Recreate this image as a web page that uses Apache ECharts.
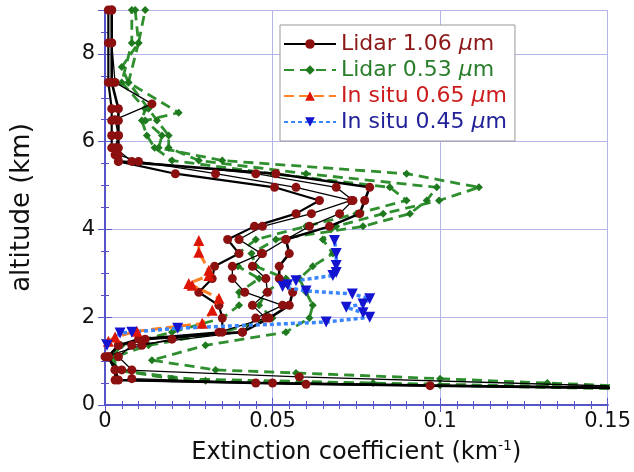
<!DOCTYPE html>
<html>
<head>
<meta charset="utf-8">
<script src="https://cdn.jsdelivr.net/npm/echarts@6/dist/echarts.min.js"></script>
<style>
  html, body { margin: 0; padding: 0; background: #fff; }
  #chart { width: 634px; height: 472px; }
</style>
</head>
<body>
<div id="chart"></div>
<script>
// Lidar 1.06 um profiles (altitude km, extinction km-1)
var lidar1064_alt1 = [0.37, 0.44, 0.5, 0.57, 0.8, 1.1, 1.36, 1.5, 1.66, 1.98, 2.27, 2.57, 2.88, 3.16, 3.45, 3.77, 4.07, 4.36, 4.66, 4.96, 5.27, 5.55, 5.7, 5.86, 6.14, 6.48, 6.75, 7.35, 8.25, 9.0];
var lidar1064_ext1 = [0.17, 0.097, 0.045, 0.004, 0.003, 0.001, 0.004, 0.012, 0.041, 0.049, 0.055, 0.056, 0.052, 0.052, 0.055, 0.054, 0.067, 0.076, 0.0775, 0.079, 0.051, 0.004, 0.003, 0.004, 0.004, 0.004, 0.004, 0.002, 0.002, 0.002];
var lidar1064_alt2 = [0.4, 0.64, 0.8, 1.1, 1.36, 1.5, 1.66, 1.98, 2.27, 2.57, 2.88, 3.16, 3.45, 3.77, 4.07, 4.36, 4.66, 4.96, 5.27, 5.55, 5.86, 6.14, 6.5, 6.86, 7.35, 8.25, 9.0];
var lidar1064_ext2 = [0.165, 0.058, 0.005, 0.0, 0.011, 0.02, 0.034, 0.048, 0.044, 0.0485, 0.048, 0.044, 0.047, 0.054, 0.061, 0.07, 0.074, 0.069, 0.045, 0.008, 0.003, 0.004, 0.003, 0.014, 0.003, 0.002, 0.002];
var lidar1064_alt3 = [0.38, 0.5, 0.57, 0.8, 1.1, 1.36, 1.5, 1.66, 1.98, 2.27, 2.57, 2.88, 3.16, 3.45, 3.77, 4.07, 4.36, 4.66, 4.96, 5.27, 5.55, 5.86, 6.14, 6.48, 6.75, 7.35, 8.25, 9.0];
var lidar1064_ext3 = [0.16, 0.05, 0.003, 0.003, 0.001, 0.004, 0.01, 0.035, 0.035, 0.034, 0.028, 0.032, 0.0327, 0.040, 0.0366, 0.0446, 0.057, 0.064, 0.0506, 0.021, 0.004, 0.002, 0.002, 0.002, 0.002, 0.001, 0.001, 0.001];
var lidar1064_alt4 = [0.4, 0.47, 0.6, 0.8, 1.1, 1.36, 1.66, 1.98, 2.27, 2.57, 2.88, 3.16, 3.45, 3.77, 4.07, 4.36, 4.66, 4.96, 5.27, 5.55, 5.7];
var lidar1064_ext4 = [0.16, 0.06, 0.008, 0.008, 0.004, 0.008, 0.041, 0.045, 0.053, 0.0417, 0.038, 0.038, 0.0467, 0.040, 0.047, 0.0616, 0.0735, 0.057, 0.033, 0.01, 0.004];

// Lidar 0.53 um profiles
var lidar532_alt1 = [0.4, 0.5, 0.6, 0.73, 0.8, 1.02, 1.36, 1.66, 1.98, 2.27, 2.57, 2.88, 3.16, 3.45, 3.77, 4.07, 4.36, 4.66, 4.96, 5.27, 5.57, 5.86, 6.14, 6.48, 6.66, 7.35, 7.7, 8.25, 9.0];
var lidar532_ext1 = [0.165, 0.132, 0.10, 0.057, 0.033, 0.014, 0.030, 0.054, 0.061, 0.062, 0.060, 0.058, 0.062, 0.068, 0.065, 0.069, 0.083, 0.0997, 0.1116, 0.09, 0.035, 0.016, 0.017, 0.012, 0.022, 0.007, 0.005, 0.010, 0.012];
var lidar532_alt2 = [0.38, 0.5, 0.6, 0.8, 1.1, 1.36, 1.66, 1.98, 2.27, 2.57, 2.88, 3.16, 3.45, 3.77, 4.07, 4.36, 4.66, 4.96, 5.27, 5.57, 5.86, 6.14, 6.48, 6.75, 7.35, 8.25, 9.0];
var lidar532_ext2 = [0.165, 0.08, 0.02, 0.003, 0.003, 0.013, 0.035, 0.05, 0.046, 0.048, 0.054, 0.045, 0.0437, 0.051, 0.077, 0.091, 0.096, 0.099, 0.06, 0.028, 0.019, 0.019, 0.0155, 0.013, 0.007, 0.01, 0.009];
var lidar532_alt3 = [0.36, 0.45, 0.55, 0.8, 1.1, 1.36, 1.66, 1.98, 2.27, 2.57, 2.88, 3.16, 3.45, 3.77, 4.07, 4.36, 4.66, 4.96, 5.27, 5.57, 5.86, 6.14, 6.48, 6.75, 7.35, 8.25, 9.0];
var lidar532_ext3 = [0.16, 0.1, 0.03, 0.003, 0.002, 0.005, 0.02, 0.035, 0.04, 0.04, 0.046, 0.0397, 0.0397, 0.045, 0.06, 0.075, 0.09, 0.085, 0.05, 0.02, 0.0148, 0.0125, 0.011, 0.012, 0.005, 0.008, 0.008];

// In situ
var insitu650_alt = [1.45, 1.55, 1.68, 1.86, 2.16, 2.43, 2.73, 2.77, 2.95, 3.07, 3.48, 3.75];
var insitu650_ext = [0.001, 0.003, 0.0095, 0.029, 0.032, 0.034, 0.026, 0.025, 0.031, 0.031, 0.028, 0.028];
var insitu450_alt = [1.36, 1.64, 1.66, 1.75, 1.89, 2.0, 2.1, 2.23, 2.3, 2.42, 2.53, 2.6, 2.7, 2.74, 2.83, 2.95, 3.02, 3.18, 3.45, 3.75];
var insitu450_ext = [0.0006, 0.0045, 0.008, 0.0217, 0.066, 0.079, 0.077, 0.072, 0.077, 0.079, 0.0738, 0.06, 0.053, 0.0545, 0.057, 0.068, 0.069, 0.069, 0.069, 0.0685];

var names = ['Lidar 1.06 μm', 'Lidar 0.53 μm', 'In situ 0.65 μm', 'In situ 0.45 μm'];
var nameColors = ['#8c1818', '#2a7d2a', '#cc1c1c', '#22229a'];

function pairs(ext, alt) {
	return ext.map(function (v, i) { return [v, alt[i]]; });
}

var fontFam = 'DejaVu Sans, sans-serif';
var frameColor = '#5656c8';

var blackSets = [[lidar1064_ext1, lidar1064_alt1, 2.6], [lidar1064_ext2, lidar1064_alt2, 1.3], [lidar1064_ext3, lidar1064_alt3, 2.2], [lidar1064_ext4, lidar1064_alt4, 1.3]];
var greenSets = [[lidar532_ext1, lidar532_alt1], [lidar532_ext2, lidar532_alt2], [lidar532_ext3, lidar532_alt3]];

var series = [];
greenSets.forEach(function (s) {
	series.push({
		name: names[1], type: 'line', data: pairs(s[0], s[1]),
		symbol: 'diamond', symbolSize: 8,
		lineStyle: { color: '#2f8f2f', width: 2.8, type: [10, 6] },
		itemStyle: { color: '#1f7a1f' }, z: 2
	});
});
blackSets.forEach(function (s) {
	series.push({
		name: names[0], type: 'line', data: pairs(s[0], s[1]),
		symbol: 'circle', symbolSize: 9,
		lineStyle: { color: '#000', width: s[2] },
		itemStyle: { color: '#8c1010' }, z: 3
	});
});
series.push({
	name: names[2], type: 'line', data: pairs(insitu650_ext, insitu650_alt),
	symbol: 'triangle', symbolSize: 11,
	lineStyle: { color: '#ff7f24', width: 3, type: [10, 5] },
	itemStyle: { color: '#dd1505' }, z: 4
});
series.push({
	name: names[3], type: 'line', data: pairs(insitu450_ext, insitu450_alt),
	symbol: 'triangle', symbolRotate: 180, symbolSize: 11,
	lineStyle: { color: '#3a86ff', width: 3.5, type: [4, 3] },
	itemStyle: { color: '#1414d0' }, z: 4
});

var rich = {};
nameColors.forEach(function (c, i) {
	rich['n' + i] = { color: c, fontSize: 22, fontFamily: fontFam };
	rich['i' + i] = { color: c, fontSize: 22, fontFamily: fontFam, fontStyle: 'italic' };
});

var chart = echarts.init(document.getElementById('chart'));
chart.setOption({
	animation: false,
	grid: { left: 105, right: 25, top: 10, bottom: 67 },
	legend: {
		data: names,
		orient: 'vertical',
		left: 280, top: 25,
		backgroundColor: '#fff',
		borderColor: '#999', borderWidth: 1,
		padding: [8, 8, 8, 3],
		itemGap: 4, itemWidth: 52, itemHeight: 12,
		textStyle: { fontSize: 22, fontFamily: fontFam, rich: rich },
		formatter: function (name) {
			var i = names.indexOf(name);
			var base = name.replace(' μm', ' ');
			return '{n' + i + '|' + base + '}{i' + i + '|μ}{n' + i + '|m}';
		}
	},
	xAxis: [{
		type: 'value', min: 0, max: 0.15, interval: 0.05,
		name: 'Extinction coefficient (km{s|-1})',
		nameLocation: 'middle', nameGap: 34,
		nameTextStyle: { fontSize: 24, fontFamily: fontFam, color: '#111',
			rich: { s: { fontSize: 14, fontFamily: fontFam, verticalAlign: 'top', padding: [0, 0, 14, 0], color: '#111' } } },
		axisLine: { show: true, lineStyle: { color: frameColor, width: 2 } },
		axisTick: { show: true, inside: true, length: 7, lineStyle: { color: frameColor } },
		minorTick: { show: true, splitNumber: 10, length: 4, lineStyle: { color: frameColor } },
		axisLabel: { fontSize: 21, fontFamily: fontFam, color: '#111', margin: 6,
			formatter: function (v) { return String(+v.toFixed(2)); } },
		splitLine: { show: true, lineStyle: { color: '#b4b4ec', width: 1 } }
	}, {
		type: 'value', min: 0, max: 0.15, interval: 0.05, position: 'top',
		axisLine: { show: true, lineStyle: { color: frameColor, width: 2 } },
		axisTick: { show: true, inside: true, length: 7, lineStyle: { color: frameColor } },
		minorTick: { show: true, splitNumber: 10, length: 4, lineStyle: { color: frameColor } },
		axisLabel: { show: false }, splitLine: { show: false }
	}],
	yAxis: [{
		type: 'value', min: 0, max: 9, interval: 2,
		name: 'altitude (km)', nameLocation: 'middle', nameGap: 70,
		nameTextStyle: { fontSize: 26, fontFamily: fontFam, color: '#111' },
		axisLine: { show: true, lineStyle: { color: frameColor, width: 2 } },
		axisTick: { show: true, inside: true, length: 7, lineStyle: { color: frameColor } },
		minorTick: { show: true, splitNumber: 4, length: 4, lineStyle: { color: frameColor } },
		axisLabel: { fontSize: 21, fontFamily: fontFam, color: '#111', margin: 10, showMaxLabel: false },
		splitLine: { show: true, lineStyle: { color: '#b4b4ec', width: 1 } }
	}, {
		type: 'value', min: 0, max: 9, interval: 2, position: 'right',
		axisLine: { show: true, lineStyle: { color: frameColor, width: 2 } },
		axisTick: { show: true, inside: true, length: 7, lineStyle: { color: frameColor } },
		minorTick: { show: true, splitNumber: 4, length: 4, lineStyle: { color: frameColor } },
		axisLabel: { show: false }, splitLine: { show: false }
	}],
	series: series
});
</script>
</body>
</html>
